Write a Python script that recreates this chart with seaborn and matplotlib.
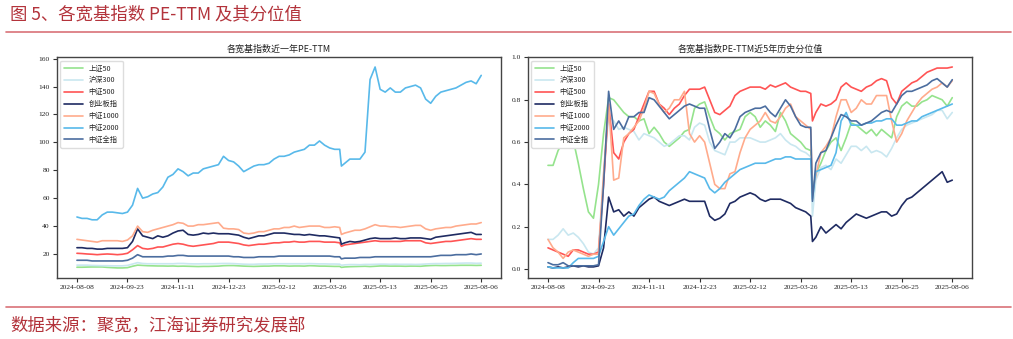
import matplotlib
matplotlib.use("Agg")
import matplotlib.pyplot as plt
from matplotlib.lines import Line2D
import pandas as pd
import seaborn as sns

# Trading-day offsets counted from 2024-08-08
day_idx = list(range(0, 157, 3)) + [157] + list(range(159, 241, 3))
tick_days = [0, 30, 60, 90, 120, 150, 180, 210, 240]
tick_labels = ["2024-08-08", "2024-09-23", "2024-11-11", "2024-12-23", "2025-02-12",
               "2025-03-26", "2025-05-13", "2025-06-25", "2025-08-06"]

index_names = ["上证50", "沪深300", "中证500", "创业板指", "中证1000", "中证2000", "中证全指"]
line_colors = ["#95e38d", "#c9e7f0", "#ff5454", "#1f2b62", "#ffab8c", "#58b9ea", "#4b6d9f"]

# PE-TTM over the last year
pe_sz50 = [10.5, 10.5, 10.6, 10.7, 10.7, 10.7, 10.4, 10.2, 10.0, 10.0,
           10.2, 11.2, 12.0, 11.8, 11.6, 11.5, 11.4, 11.4, 11.3, 11.4,
           11.2, 11.3, 11.2, 11.1, 11.0, 11.1, 11.1, 11.2, 11.3, 11.6,
           11.7, 11.7, 11.5, 11.3, 11.2, 11.1, 11.2, 11.3, 11.3, 11.5,
           11.5, 11.5, 11.3, 11.4, 11.4, 11.3, 11.6, 11.5, 11.3, 11.3,
           11.2, 11.1, 11.1, 10.4, 10.7, 10.9, 11.0, 11.1, 11.2, 11.0,
           11.2, 11.4, 11.4, 11.3, 11.3, 11.3, 11.2, 11.3, 11.3, 11.2,
           11.5, 11.7, 11.8, 11.7, 11.7, 11.8, 11.8, 11.9, 11.9, 11.9,
           11.8, 11.9]
pe_hs300 = [12.0, 12.0, 12.0, 11.8, 11.7, 11.6, 11.6, 11.5, 11.5, 11.5,
            11.8, 12.8, 13.8, 13.2, 13.0, 13.0, 13.0, 13.0, 13.0, 13.0,
            13.2, 13.2, 13.0, 12.9, 12.9, 13.0, 13.0, 13.0, 13.1, 13.2,
            13.2, 13.1, 12.9, 12.7, 12.6, 12.6, 12.8, 12.8, 12.9, 13.0,
            13.0, 13.0, 13.0, 13.0, 13.0, 13.0, 13.1, 13.0, 12.9, 12.9,
            12.8, 12.8, 12.7, 11.9, 12.2, 12.4, 12.4, 12.3, 12.5, 12.5,
            12.6, 12.7, 12.7, 12.6, 12.7, 12.6, 12.6, 12.6, 12.5, 12.6,
            12.8, 13.0, 13.1, 13.1, 13.2, 13.2, 13.3, 13.4, 13.5, 13.5,
            13.3, 13.4]
pe_zz500 = [20.5, 20.3, 20.0, 19.8, 19.5, 19.8, 20.0, 19.8, 19.5, 19.8,
            20.5, 23.0, 26.0, 24.0, 23.5, 24.0, 25.0, 25.0, 26.0, 27.0,
            27.5, 27.0, 26.0, 25.5, 26.0, 26.5, 27.0, 27.5, 28.5, 28.5,
            28.5, 28.0, 27.5, 26.5, 26.0, 26.5, 27.0, 27.0, 27.5, 28.0,
            28.0, 28.5, 28.5, 29.0, 28.5, 28.5, 29.0, 29.0, 29.0, 28.5,
            28.5, 28.5, 28.0, 25.5, 26.5, 27.0, 27.5, 28.0, 28.5, 29.0,
            29.5, 29.0, 29.0, 29.0, 29.0, 29.0, 29.5, 29.5, 29.5, 29.5,
            28.0, 27.5, 28.0, 28.5, 29.0, 29.0, 29.5, 30.0, 30.5, 31.0,
            30.5, 30.5]
pe_cyb = [24.5, 24.5, 24.0, 24.0, 23.5, 23.5, 24.0, 24.0, 24.0, 24.0,
          24.5, 29.0, 38.0, 33.0, 32.0, 31.0, 33.0, 32.0, 33.0, 35.0,
          36.5, 37.0, 34.0, 33.5, 34.0, 35.0, 34.5, 35.0, 34.5, 34.5,
          34.5, 34.0, 33.5, 32.0, 31.0, 32.0, 33.0, 33.0, 34.0, 35.0,
          35.0, 35.0, 34.5, 34.0, 34.0, 33.5, 34.0, 33.5, 33.0, 33.0,
          32.5, 32.0, 31.5, 27.0, 28.0, 29.0, 28.5, 29.0, 30.0, 31.0,
          31.5, 31.0, 31.0, 31.0, 31.5, 31.0, 31.0, 31.5, 31.5, 31.5,
          31.0, 30.5, 32.0, 32.5, 33.0, 33.5, 34.0, 34.5, 35.0, 35.5,
          34.0, 34.0]
pe_zz1000 = [30.5, 30.0, 29.5, 29.0, 28.5, 29.5, 29.5, 29.5, 29.5, 29.0,
             30.0, 33.0, 40.0, 36.0, 35.5, 37.0, 38.0, 39.0, 40.0, 41.0,
             42.5, 42.0, 40.0, 40.0, 41.0, 41.0, 41.5, 42.0, 42.5, 38.5,
             38.0, 38.0, 37.5, 35.0, 34.5, 35.0, 36.0, 36.0, 37.0, 38.0,
             38.0, 39.0, 39.0, 40.0, 39.0, 39.5, 40.0, 40.0, 40.0, 39.0,
             39.0, 39.5, 39.0, 34.0, 35.0, 36.0, 37.0, 37.0, 38.0, 39.5,
             41.0, 40.0, 40.0, 39.5, 39.5, 39.0, 39.5, 40.0, 40.5, 40.5,
             38.0, 37.0, 38.0, 38.5, 39.0, 39.0, 40.0, 40.5, 41.0, 41.5,
             41.5, 42.5]
pe_zz2000 = [46.5, 45.5, 45.5, 44.5, 44.5, 48.0, 50.0, 50.0, 49.5, 49.0,
             50.0, 55.0, 67.0, 60.0, 61.0, 63.0, 64.0, 68.0, 75.0, 77.0,
             81.0, 79.0, 76.0, 78.0, 78.0, 81.0, 82.0, 83.0, 84.0, 90.0,
             87.0, 86.0, 83.0, 79.0, 81.0, 83.0, 84.0, 84.0, 85.0, 88.0,
             90.0, 90.0, 91.0, 93.0, 94.0, 95.0, 98.0, 98.0, 101.0, 98.0,
             96.0, 95.0, 95.0, 83.0, 85.0, 88.0, 88.0, 88.0, 93.0, 145.0,
             154.0, 138.0, 136.0, 139.0, 136.0, 136.0, 139.0, 140.0, 141.0, 139.0,
             131.0, 128.0, 133.0, 136.0, 137.0, 138.0, 139.0, 141.0, 143.0, 144.0,
             142.0, 148.0]
pe_zzqz = [15.5, 15.5, 15.5, 15.0, 15.0, 15.0, 15.0, 15.0, 15.0, 15.0,
           15.5, 17.0, 19.5, 18.0, 18.0, 18.0, 18.0, 18.0, 18.5, 18.5,
           19.0, 19.0, 18.5, 18.5, 18.5, 18.5, 18.5, 18.5, 18.5, 18.5,
           18.5, 18.0, 18.0, 17.5, 17.5, 17.5, 18.0, 18.0, 18.0, 18.0,
           18.5, 18.5, 18.5, 18.5, 18.5, 18.5, 18.5, 18.5, 18.5, 18.5,
           18.5, 18.0, 18.0, 16.5, 17.0, 17.0, 17.0, 17.5, 17.5, 17.5,
           18.0, 18.0, 18.0, 18.0, 18.0, 18.0, 18.0, 18.0, 18.0, 18.0,
           18.0, 18.0, 18.5, 19.0, 19.0, 19.0, 19.5, 19.5, 19.5, 20.0,
           19.5, 20.0]

# Percentile of PE-TTM within the last five years
pct_sz50 = [0.49, 0.49, 0.56, 0.60, 0.60, 0.61, 0.50, 0.38, 0.27, 0.24,
            0.40, 0.64, 0.81, 0.80, 0.77, 0.74, 0.72, 0.72, 0.70, 0.71,
            0.64, 0.67, 0.64, 0.60, 0.58, 0.60, 0.62, 0.65, 0.66, 0.76,
            0.78, 0.79, 0.72, 0.66, 0.64, 0.61, 0.64, 0.65, 0.66, 0.72,
            0.74, 0.72, 0.67, 0.70, 0.68, 0.65, 0.74, 0.70, 0.64, 0.62,
            0.60, 0.57, 0.56, 0.36, 0.45, 0.50, 0.56, 0.60, 0.62, 0.56,
            0.62, 0.69, 0.68, 0.66, 0.64, 0.66, 0.63, 0.66, 0.64, 0.62,
            0.72, 0.77, 0.79, 0.77, 0.77, 0.79, 0.80, 0.82, 0.81, 0.80,
            0.77, 0.81]
pct_hs300 = [0.14, 0.14, 0.16, 0.19, 0.16, 0.17, 0.15, 0.12, 0.08, 0.07,
             0.10, 0.45, 0.72, 0.70, 0.66, 0.67, 0.66, 0.65, 0.61, 0.64,
             0.63, 0.62, 0.60, 0.58, 0.59, 0.61, 0.63, 0.63, 0.61, 0.67,
             0.69, 0.68, 0.60, 0.56, 0.55, 0.54, 0.60, 0.60, 0.62, 0.62,
             0.62, 0.61, 0.60, 0.60, 0.61, 0.62, 0.64, 0.61, 0.59, 0.58,
             0.56, 0.55, 0.53, 0.25, 0.42, 0.48, 0.49, 0.47, 0.52, 0.50,
             0.54, 0.58, 0.58, 0.56, 0.58, 0.55, 0.56, 0.55, 0.53, 0.57,
             0.62, 0.66, 0.68, 0.69, 0.70, 0.71, 0.72, 0.73, 0.75, 0.75,
             0.71, 0.74]
pct_zz500 = [0.10, 0.09, 0.08, 0.07, 0.06, 0.09, 0.09, 0.08, 0.07, 0.07,
             0.08, 0.40, 0.78, 0.55, 0.52, 0.60, 0.64, 0.66, 0.72, 0.78,
             0.84, 0.84, 0.78, 0.76, 0.73, 0.76, 0.78, 0.82, 0.85, 0.85,
             0.85, 0.86, 0.80, 0.74, 0.73, 0.75, 0.77, 0.82, 0.84, 0.85,
             0.86, 0.86, 0.86, 0.85, 0.87, 0.86, 0.87, 0.88, 0.86, 0.85,
             0.84, 0.84, 0.83, 0.70, 0.74, 0.78, 0.77, 0.78, 0.80, 0.86,
             0.88, 0.86, 0.85, 0.84, 0.86, 0.87, 0.89, 0.90, 0.89, 0.81,
             0.78, 0.84, 0.86, 0.88, 0.89, 0.91, 0.93, 0.94, 0.95, 0.95,
             0.95, 0.955]
pct_cyb = [0.010, 0.005, 0.010, 0.005, 0.010, 0.015, 0.010, 0.015, 0.010, 0.010,
           0.015, 0.10, 0.34, 0.27, 0.28, 0.25, 0.27, 0.25, 0.29, 0.31,
           0.33, 0.34, 0.32, 0.31, 0.30, 0.31, 0.32, 0.33, 0.32, 0.32,
           0.32, 0.32, 0.25, 0.23, 0.24, 0.26, 0.31, 0.32, 0.34, 0.35,
           0.36, 0.35, 0.33, 0.32, 0.33, 0.33, 0.33, 0.32, 0.31, 0.29,
           0.28, 0.27, 0.25, 0.13, 0.15, 0.20, 0.17, 0.19, 0.21, 0.19,
           0.22, 0.24, 0.26, 0.25, 0.24, 0.25, 0.26, 0.27, 0.27, 0.25,
           0.26, 0.30, 0.33, 0.34, 0.36, 0.38, 0.40, 0.42, 0.44, 0.46,
           0.41, 0.42]
pct_zz1000 = [0.14, 0.10, 0.08, 0.05, 0.08, 0.09, 0.08, 0.07, 0.06, 0.07,
              0.07, 0.45, 0.78, 0.42, 0.43, 0.62, 0.64, 0.67, 0.70, 0.76,
              0.84, 0.83, 0.78, 0.74, 0.76, 0.80, 0.80, 0.84, 0.64, 0.60,
              0.63, 0.60, 0.50, 0.40, 0.38, 0.38, 0.45, 0.46, 0.55, 0.62,
              0.66, 0.68, 0.70, 0.74, 0.70, 0.69, 0.72, 0.76, 0.78, 0.72,
              0.70, 0.68, 0.66, 0.36, 0.44, 0.55, 0.58, 0.62, 0.72, 0.80,
              0.80, 0.74, 0.76, 0.80, 0.78, 0.78, 0.82, 0.82, 0.82, 0.70,
              0.60, 0.64, 0.70, 0.74, 0.78, 0.81, 0.83, 0.85, 0.86, 0.88,
              0.86, 0.89]
pct_zz2000 = [0.010, 0.005, 0.005, 0.005, 0.005, 0.03, 0.05, 0.05, 0.05, 0.05,
              0.06, 0.13, 0.20, 0.16, 0.19, 0.22, 0.25, 0.26, 0.30, 0.33,
              0.35, 0.34, 0.33, 0.34, 0.37, 0.39, 0.41, 0.43, 0.46, 0.45,
              0.44, 0.43, 0.38, 0.36, 0.38, 0.41, 0.43, 0.45, 0.47, 0.48,
              0.49, 0.50, 0.50, 0.50, 0.51, 0.52, 0.52, 0.53, 0.53, 0.52,
              0.52, 0.52, 0.52, 0.33, 0.46, 0.47, 0.48, 0.49, 0.55, 0.70,
              0.74, 0.68, 0.68, 0.68, 0.69, 0.69, 0.70, 0.70, 0.71, 0.71,
              0.68, 0.68, 0.69, 0.70, 0.70, 0.72, 0.73, 0.74, 0.75, 0.76,
              0.77, 0.78]
pct_zzqz = [0.03, 0.02, 0.02, 0.03, 0.015, 0.015, 0.015, 0.015, 0.015, 0.015,
            0.02, 0.40, 0.84, 0.66, 0.70, 0.66, 0.72, 0.72, 0.74, 0.74,
            0.81, 0.80, 0.77, 0.74, 0.71, 0.73, 0.75, 0.77, 0.78, 0.77,
            0.76, 0.76, 0.66, 0.57, 0.60, 0.64, 0.62, 0.66, 0.72, 0.74,
            0.75, 0.76, 0.76, 0.77, 0.74, 0.72, 0.76, 0.80, 0.77, 0.72,
            0.68, 0.67, 0.67, 0.32, 0.50, 0.55, 0.56, 0.62, 0.68, 0.73,
            0.72, 0.70, 0.70, 0.68, 0.69, 0.70, 0.72, 0.74, 0.75, 0.74,
            0.78, 0.82, 0.84, 0.84, 0.85, 0.86, 0.87, 0.89, 0.90, 0.88,
            0.86, 0.895]

pe_series = [pe_sz50, pe_hs300, pe_zz500, pe_cyb, pe_zz1000, pe_zz2000, pe_zzqz]
pct_series = [pct_sz50, pct_hs300, pct_zz500, pct_cyb, pct_zz1000, pct_zz2000, pct_zzqz]


def to_long(series_list):
    frames = []
    for name, vals in zip(index_names, series_list):
        frames.append(pd.DataFrame({"day": day_idx, "value": vals, "index": name}))
    return pd.concat(frames, ignore_index=True)


sns.set_theme(style="ticks")
plt.rcParams["font.family"] = ["Noto Sans CJK SC", "DejaVu Sans"]
plt.rcParams["axes.unicode_minus"] = False

palette = dict(zip(index_names, line_colors))
fig = plt.figure(figsize=(10.13, 3.39), dpi=100)
ax_pe = fig.add_axes([0.056, 0.180, 0.439, 0.652])
ax_pct = fig.add_axes([0.521, 0.180, 0.439, 0.652])

panels = [
    (ax_pe, to_long(pe_series), "各宽基指数近一年PE-TTM"),
    (ax_pct, to_long(pct_series), "各宽基指数PE-TTM近5年历史分位值"),
]

for ax, df, title in panels:
    sns.lineplot(data=df, x="day", y="value", hue="index", hue_order=index_names,
                 palette=palette, estimator=None, sort=False, linewidth=1.2, ax=ax)
    ax.set_xticks(tick_days)
    ax.set_xticklabels(tick_labels)
    ax.set_xlabel("")
    ax.set_ylabel("")
    ax.set_title(title, fontsize=6.5, pad=4, color="#222222")
    ax.tick_params(axis="both", length=3, width=0.8, color="#333333",
                   labelsize=5.4, pad=2, labelcolor="#222222")
    for lab in ax.get_xticklabels() + ax.get_yticklabels():
        lab.set_fontfamily("Liberation Serif")
    for sp in ax.spines.values():
        sp.set_visible(True)
        sp.set_color("#444444")
        sp.set_linewidth(1.0)
    handles, labels = ax.get_legend_handles_labels()
    leg = ax.legend(handles, labels, loc="upper left", fontsize=5.2, frameon=True,
                    handlelength=2.6, labelspacing=0.55, borderpad=0.5,
                    fancybox=True, framealpha=1.0, edgecolor="#dddddd")
    for h in leg.get_lines():
        h.set_linewidth(1.2)

ax_pct.set_yticks([0.0, 0.2, 0.4, 0.6, 0.8, 1.0])
ax_pct.set_yticklabels(["0.0", "0.2", "0.4", "0.6", "0.8", "1.0"])
for lab in ax_pct.get_yticklabels():
    lab.set_fontfamily("Liberation Serif")

accent = "#b3333b"
fig.text(0.010, 0.958, "图 5、各宽基指数 PE-TTM 及其分位值", color=accent,
         fontsize=12.5, va="center", ha="left")
fig.text(0.010, 0.040, "数据来源：聚宽，江海证券研究发展部", color=accent,
         fontsize=12.5, va="center", ha="left")
fig.add_artist(Line2D([0.006, 0.998], [0.906, 0.906], transform=fig.transFigure,
                      color="#d97278", linewidth=1.2))
fig.add_artist(Line2D([0.006, 0.998], [0.093, 0.093], transform=fig.transFigure,
                      color="#d97278", linewidth=1.2))

fig.savefig("out.png", dpi=100, facecolor="white")
